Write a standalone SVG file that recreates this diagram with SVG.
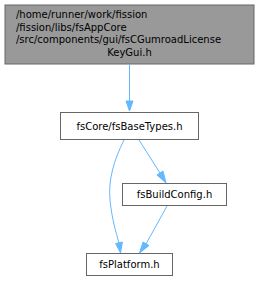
<svg xmlns="http://www.w3.org/2000/svg" width="259" height="281" viewBox="0 0 259 281">
<style>
text{font-family:"DejaVu Sans",sans-serif;font-size:10px;fill:#000}
.n{fill:#fff;stroke:#666;stroke-width:1}
.e{fill:none;stroke:#63b8ff;stroke-width:1}
.a{fill:#63b8ff;stroke:#63b8ff}
</style>
<rect width="259" height="281" fill="#fff"/>
<g id="node1">
<rect x="5" y="5" width="249" height="59" fill="#999" stroke="#666"/>
<text x="16" y="18">/home/runner/work/fission</text>
<text x="16" y="30.5">/fission/libs/fsAppCore</text>
<text x="16" y="43">/src/components/gui/fsCGumroadLicense</text>
<text x="129.5" y="55.5" text-anchor="middle">KeyGui.h</text>
</g>
<g id="node2">
<rect class="n" x="60.5" y="112.5" width="138" height="27"/>
<text x="129.5" y="129.5" text-anchor="middle">fsCore/fsBaseTypes.h</text>
</g>
<g id="node3">
<rect class="n" x="122.5" y="183.5" width="104" height="22"/>
<text x="174.5" y="198" text-anchor="middle">fsBuildConfig.h</text>
</g>
<g id="node4">
<rect class="n" x="86.5" y="253.5" width="86" height="22"/>
<text x="129.5" y="268" text-anchor="middle">fsPlatform.h</text>
</g>
<g id="edges">
<path class="e" d="M129.5,64 L129.5,101"/>
<polygon class="a" points="126,101 129.5,111 133,101"/>
<path class="e" d="M124,140 C114,160 108,180 110,200 C112,220 116,232 119,243"/>
<polygon class="a" points="115.6,243.5 120.5,253 122.4,242"/>
<path class="e" d="M139,140 L160,173"/>
<polygon class="a" points="157,175 166,183 163,171"/>
<path class="e" d="M167,206 L146,244"/>
<polygon class="a" points="143,242 139.5,253 149,245.5"/>
</g>
</svg>
